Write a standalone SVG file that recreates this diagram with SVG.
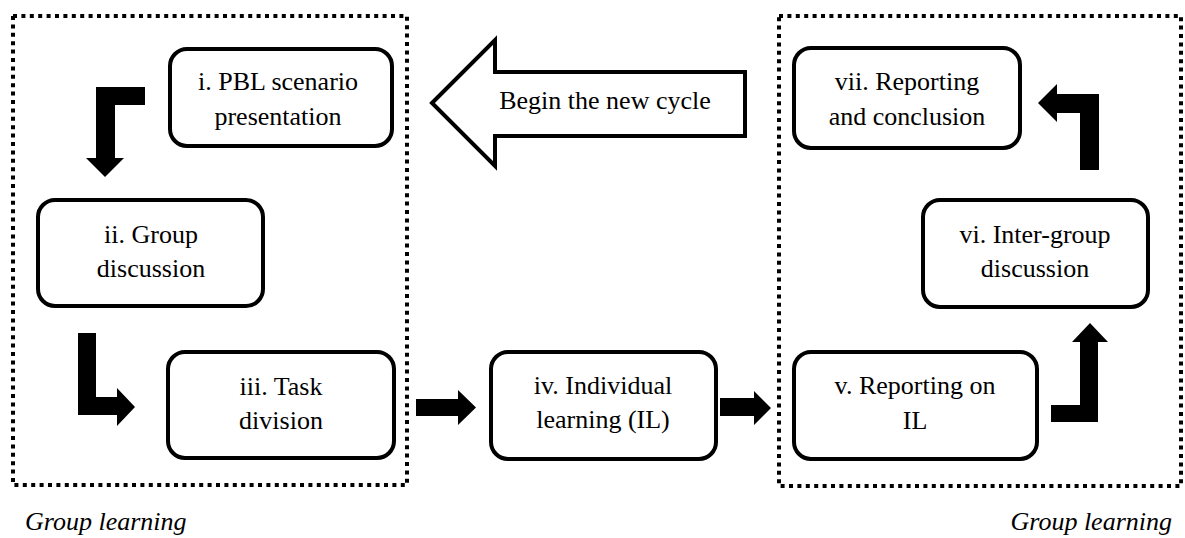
<svg xmlns="http://www.w3.org/2000/svg" width="1185" height="538" viewBox="0 0 1185 538">
  <style>
    .zone { fill: none; stroke: #000; stroke-width: 4; stroke-dasharray: 4 4.4; }
    .box { fill: #fff; stroke: #000; stroke-width: 4; }
    text { font-family: "Liberation Serif", "Times New Roman", "DejaVu Serif", serif; font-size: 26px; fill: #000; }
    .lbl { text-anchor: middle; }
    .cap { font-style: italic; }
    .flow { fill: #000; stroke: none; }
  </style>
  <rect width="1185" height="538" fill="#fff"/>

  <!-- group-learning zones -->
  <g id="zone-left">
    <rect class="zone" x="13" y="16" width="394" height="469"/>
    <text class="cap" x="25" y="530">Group learning</text>
  </g>
  <g id="zone-right">
    <rect class="zone" x="779" y="16" width="402" height="470"/>
    <text class="cap" x="1172" y="530" text-anchor="end">Group learning</text>
  </g>

  <!-- steps -->
  <g id="step-i">
    <rect class="box" x="170" y="49" width="222" height="97" rx="17"/>
    <text class="lbl" x="278" y="90">i. PBL scenario</text>
    <text class="lbl" x="278" y="125">presentation</text>
  </g>
  <g id="step-ii">
    <rect class="box" x="38" y="200" width="225" height="106" rx="17"/>
    <text class="lbl" x="151" y="243">ii. Group</text>
    <text class="lbl" x="151" y="277">discussion</text>
  </g>
  <g id="step-iii">
    <rect class="box" x="168" y="352" width="226" height="106" rx="17"/>
    <text class="lbl" x="281" y="395">iii. Task</text>
    <text class="lbl" x="281" y="429">division</text>
  </g>
  <g id="step-iv">
    <rect class="box" x="491" y="352" width="225" height="107" rx="17"/>
    <text class="lbl" x="603" y="394">iv. Individual</text>
    <text class="lbl" x="603" y="428">learning (IL)</text>
  </g>
  <g id="step-v">
    <rect class="box" x="794" y="352" width="243" height="107" rx="17"/>
    <text class="lbl" x="915" y="394">v. Reporting on</text>
    <text class="lbl" x="915" y="429">IL</text>
  </g>
  <g id="step-vi">
    <rect class="box" x="923" y="200" width="225" height="107" rx="17"/>
    <text class="lbl" x="1035" y="243">vi. Inter-group</text>
    <text class="lbl" x="1035" y="277">discussion</text>
  </g>
  <g id="step-vii">
    <rect class="box" x="794" y="48" width="226" height="100" rx="17"/>
    <text class="lbl" x="907" y="90">vii. Reporting</text>
    <text class="lbl" x="907" y="125">and conclusion</text>
  </g>

  <!-- hollow return arrow back to step i -->
  <g id="new-cycle">
    <polygon class="box" stroke-linejoin="miter" points="432,103 495,40 495,72 745,72 745,136 495,136 495,166"/>
    <text class="lbl" x="605" y="109">Begin the new cycle</text>
  </g>

  <!-- solid block arrows between steps -->
  <g id="connectors">
    <polygon class="flow" points="145,87 96,87 96,158 86,158 105,177 124,158 115,158 115,105 145,105"/>
    <polygon class="flow" points="78,333 96,333 96,397 117,397 117,388 135,407 117,426 117,415 78,415"/>
    <polygon class="flow" points="416,399 458,399 458,390 476,407.5 458,425 458,416 416,416"/>
    <polygon class="flow" points="720,398 754,398 754,391 771,408 754,425 754,416 720,416"/>
    <polygon class="flow" points="1051,405 1080,405 1080,342 1072,342 1090,323 1108,342 1098,342 1098,422 1051,422"/>
    <polygon class="flow" points="1080,170 1080,113 1057,113 1057,122 1038,103 1057,84 1057,94 1099,94 1099,170"/>
  </g>
</svg>
